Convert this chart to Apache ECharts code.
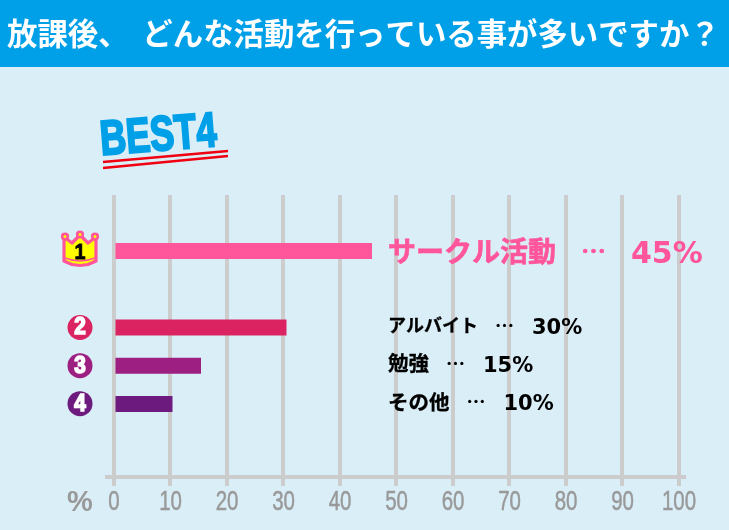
<!DOCTYPE html>
<html><head><meta charset="utf-8">
<style>html,body{margin:0;padding:0;background:#DAEEF7}#c{width:729px;height:530px}</style>
<script src="https://cdn.jsdelivr.net/npm/echarts@6/dist/echarts.min.js"></script>
</head><body><div id="c"></div>
<script>
const rowKeys = ['1', 'gap', '2', '3', '4'];
const values = [45, null, 30, 15, 10];
const colors = ['#FF559B', null, '#DA2360', '#9D1F82', '#6D1A7E'];
const names = ['サークル活動', '', 'アルバイト', '勉強', 'その他'];
const labelValues = ['45%', '', '30%', '15%', '10%'];
const tickLabels = [0, 10, 20, 30, 40, 50, 60, 70, 80, 90, 100];
const tickStep = 10;
const titleText = '放課後、  どんな活動を行っている事が多いですか？';
const JP = '"Noto Sans CJK JP"';
const LAT = '"Liberation Sans"';
const WIDE = '"DejaVu Sans"';
const labelX = 47.8;

const labelData = rowKeys.map((k, i) => values[i] == null ? null : { value: [labelX, k] });
const edging = (c, w) => ({ color: c, textBorderColor: c, textBorderWidth: w });
const rich = {
  nBig:  { ...edging('#FF559B', 0.6), fontFamily: JP, fontWeight: 'bold', fontSize: 28, padding: [0, 25, 0, 0] },
  dBig:  { ...edging('#FF559B', 0.6), fontFamily: JP, fontWeight: 'bold', fontSize: 25, width: 50, align: 'left' },
  vBig:  { color: '#FF559B', fontFamily: WIDE, fontWeight: 'bold', fontSize: 30, padding: [8, 0, 0, 0] },
  nKana: { ...edging('#000', 0.3), fontFamily: JP, fontWeight: 'bold', fontSize: 18, padding: [0, 17, 0, 0] },
  nKanji:{ ...edging('#000', 0.3), fontFamily: JP, fontWeight: 'bold', fontSize: 20.5, padding: [0, 17, 0, 0] },
  dSm:   { ...edging('#000', 0.2), fontFamily: JP, fontWeight: 'bold', fontSize: 19, width: 37, align: 'left' },
  vSm:   { color: '#000', fontFamily: WIDE, fontWeight: 'bold', fontSize: 21, padding: [6, 0, 0, 0] }
};

function badge(y, n, color) {
  return [
    { type: 'circle', shape: { cx: 80, cy: y, r: 12.5 }, style: { fill: color }, z: 10 },
    { type: 'text', x: 80, y: y + 0.5, scaleX: 0.9, z: 11, style: { text: n, fill: '#fff', stroke: '#fff', lineWidth: 1.6, font: 'bold 23px ' + LAT, align: 'center', verticalAlign: 'middle' } }
  ];
}

const chart = echarts.init(document.getElementById('c'), null, { renderer: 'canvas' });
chart.setOption({
  animation: false,
  backgroundColor: '#DAEEF7',
  grid: [
    { left: 113.5, top: 195, width: 565, height: 291, show: false },
    { left: 115.5, top: 232, width: 570, height: 191, show: false }
  ],
  xAxis: [
    { gridIndex: 0, type: 'value', min: 0, max: 100, interval: tickStep,
      axisLine: { show: false }, axisTick: { show: false },
      splitLine: { show: true, lineStyle: { color: '#CCCCCC', width: 4 } },
      axisLabel: { show: false } },
    { gridIndex: 1, type: 'value', min: 0, max: 100, show: false }
  ],
  yAxis: [
    { gridIndex: 0, type: 'value', show: false, min: 0, max: 1 },
    { gridIndex: 1, type: 'category', data: rowKeys, inverse: true, show: false }
  ],
  series: [
    { type: 'bar', xAxisIndex: 1, yAxisIndex: 1, barWidth: 16, z: 4,
      data: values.map((v, i) => v == null ? null : { value: v, itemStyle: { color: colors[i] } }) },
    { type: 'scatter', xAxisIndex: 1, yAxisIndex: 1, symbolSize: 0, z: 5, silent: true,
      itemStyle: { opacity: 1 },
      data: labelData,
      label: { show: true, position: 'right', distance: 0, rich,
        formatter: p => {
          const i = p.dataIndex;
          if (i === 0) return `{nBig|${names[i]}}{dBig|…}{vBig|${labelValues[i]}}`;
          const n = i === 2 ? 'nKana' : 'nKanji';
          return `{${n}|${names[i]}}{dSm|…}{vSm|${labelValues[i]}}`;
        } },
      labelLayout: p => p.dataIndex === 0 ? {} : { dy: -2 } }
  ]
});

const tickTexts = tickLabels.map(v => ({
  type: 'text', x: chart.convertToPixel({ xAxisIndex: 0 }, v) + 0.5, y: 502.5, scaleX: 0.73, z: 6,
  style: { text: String(v), fill: '#999999', stroke: '#999999', lineWidth: 0.5, font: '28px ' + LAT, align: 'center', verticalAlign: 'middle' }
}));
const crownPts = [[64,237],[72,243],[80,235],[88,243],[96,237],[96,261],[88,264.5],[80,265.5],[72,264.5],[64,261]];

chart.setOption({ graphic: { elements: [
  { type: 'rect', shape: { x: 0, y: 0, width: 729, height: 67 }, style: { fill: '#00A0E9' }, z: 5 },
  { type: 'text', x: 7, y: 33, z: 6, style: { text: titleText, fill: '#fff', font: 'bold 30.4px ' + JP, verticalAlign: 'middle' } },
  { type: 'line', shape: { x1: 105, y1: 477, x2: 686, y2: 477 }, style: { stroke: '#CCCCCC', lineWidth: 4 }, z: 1 },
  ...tickTexts,
  { type: 'text', x: 80, y: 503, z: 6, style: { text: '%', fill: '#999999', font: 'bold 29px ' + LAT, align: 'center', verticalAlign: 'middle' } },
  { type: 'text', x: 102, y: 166, rotation: 4.5 * Math.PI / 180, scaleX: 0.74, z: 6,
    style: { text: 'BEST4', fill: '#00A0E9', stroke: '#00A0E9', lineWidth: 2.2, font: 'bold 49px ' + LAT, verticalAlign: 'bottom' } },
  { type: 'line', shape: { x1: 103, y1: 162, x2: 228, y2: 151 }, style: { stroke: '#F00010', lineWidth: 2.4 }, z: 7 },
  { type: 'line', shape: { x1: 103, y1: 168, x2: 228, y2: 156 }, style: { stroke: '#F00010', lineWidth: 2.4 }, z: 7 },
  { type: 'polygon', shape: { points: crownPts },
    style: { fill: '#FFFF00', stroke: '#FF559B', lineWidth: 3.2, lineJoin: 'round' }, z: 10 },
  { type: 'circle', shape: { cx: 65, cy: 236.5, r: 2.8 }, style: { fill: '#FFFF00', stroke: '#FF559B', lineWidth: 2.6 }, z: 11 },
  { type: 'circle', shape: { cx: 80, cy: 234.5, r: 2.8 }, style: { fill: '#FFFF00', stroke: '#FF559B', lineWidth: 2.6 }, z: 11 },
  { type: 'circle', shape: { cx: 95, cy: 236.5, r: 2.8 }, style: { fill: '#FFFF00', stroke: '#FF559B', lineWidth: 2.6 }, z: 11 },
  { type: 'bezierCurve', shape: { x1: 65, y1: 258, cpx1: 75, cpy1: 262, cpx2: 85, cpy2: 262, x2: 95, y2: 258 }, style: { fill: null, stroke: '#FF559B', lineWidth: 1.4 }, z: 11 },
  { type: 'text', x: 80, y: 252.5, scaleX: 0.9, z: 12, style: { text: '1', fill: '#000', stroke: '#000', lineWidth: 0.8, font: 'bold 22px ' + LAT, align: 'center', verticalAlign: 'middle' } },
  ...badge(327.5, '2', '#DA2360'), ...badge(365.7, '3', '#9D1F82'), ...badge(403.7, '4', '#6D1A7E')
] } });
</script></body></html>
